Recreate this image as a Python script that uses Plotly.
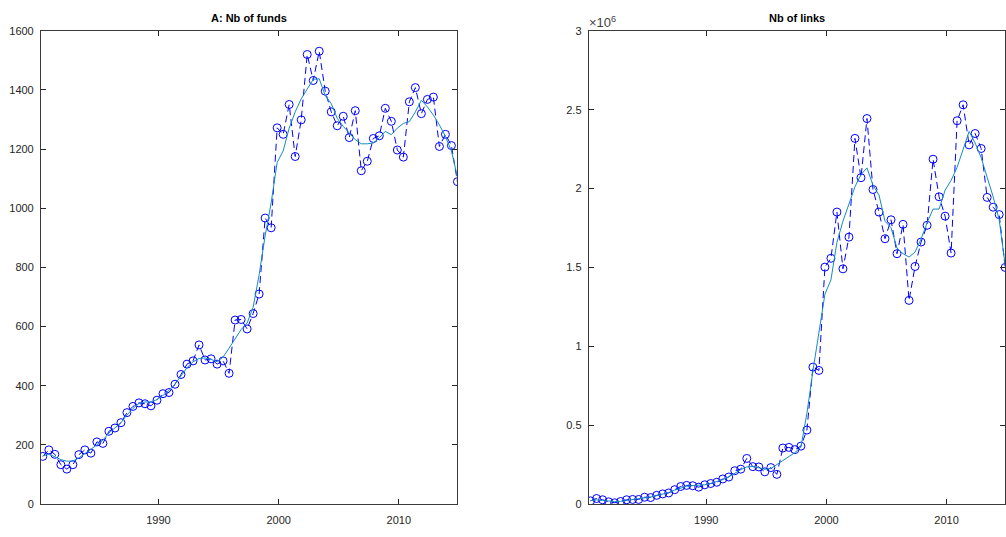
import plotly.graph_objects as go

# time axis: semi-annual observations
years = [1980.375 + 0.5 * k for k in range(70)]

funds = [161, 183, 168, 133, 118, 133, 167, 183, 172, 210,
         205, 246, 257, 275, 309, 330, 342, 339, 332, 351,
         373, 377, 405, 438, 473, 484, 538, 487, 491, 473,
         484, 442, 622, 624, 592, 644, 710, 967, 934, 1272,
         1250, 1351, 1175, 1299, 1520, 1432, 1531, 1396, 1326, 1279,
         1311, 1239, 1330, 1127, 1159, 1236, 1245, 1338, 1294, 1197,
         1173, 1360, 1408, 1320, 1368, 1376, 1209, 1250, 1212, 1090]

funds_smooth = [163, 168, 160, 150, 145, 145, 156, 172, 185, 200,
                216, 240, 257, 275, 301, 323, 340, 345, 345, 353,
                367, 384, 406, 434, 461, 481, 492, 494, 489, 481,
                497, 527, 560, 590, 612, 665, 775, 907, 1018, 1155,
                1194, 1271, 1326, 1370, 1403, 1436, 1438, 1381, 1354, 1304,
                1277, 1255, 1232, 1218, 1218, 1221, 1238, 1260, 1249, 1271,
                1287, 1293, 1326, 1365, 1343, 1315, 1282, 1243, 1194, 1106]

links_m = [0.020, 0.035, 0.027, 0.014, 0.008, 0.016, 0.027, 0.029, 0.029, 0.043,
           0.041, 0.055, 0.064, 0.070, 0.091, 0.111, 0.118, 0.116, 0.107, 0.122,
           0.130, 0.138, 0.159, 0.171, 0.211, 0.221, 0.289, 0.237, 0.235, 0.204,
           0.231, 0.188, 0.355, 0.359, 0.345, 0.367, 0.469, 0.868, 0.847, 1.502,
           1.558, 1.851, 1.491, 1.692, 2.318, 2.069, 2.444, 1.994, 1.851, 1.682,
           1.802, 1.587, 1.773, 1.291, 1.506, 1.661, 1.767, 2.186, 1.948, 1.825,
           1.591, 2.430, 2.531, 2.277, 2.349, 2.254, 1.944, 1.882, 1.835, 1.500]

links_smooth_m = [0.022, 0.026, 0.023, 0.018, 0.015, 0.017, 0.022, 0.028, 0.032, 0.038,
                  0.045, 0.053, 0.062, 0.073, 0.088, 0.103, 0.113, 0.117, 0.118, 0.122,
                  0.130, 0.141, 0.155, 0.172, 0.195, 0.218, 0.235, 0.238, 0.230, 0.220,
                  0.225, 0.250, 0.280, 0.305, 0.326, 0.360, 0.574, 0.843, 1.101, 1.330,
                  1.421, 1.659, 1.793, 1.907, 2.011, 2.089, 2.131, 2.021, 1.959, 1.793,
                  1.752, 1.622, 1.587, 1.566, 1.597, 1.680, 1.783, 1.870, 1.870, 1.990,
                  2.052, 2.135, 2.248, 2.362, 2.289, 2.196, 2.072, 1.948, 1.803, 1.515]

x_ticks = [1990, 2000, 2010]
funds_ticks = [0, 200, 400, 600, 800, 1000, 1200, 1400, 1600]
links_ticks = [0, 0.5, 1, 1.5, 2, 2.5, 3]
links_tick_text = ["0", "0.5", "1", "1.5", "2", "2.5", "3"]

RAW = "rgb(0,0,255)"
SMOOTH = "rgb(20,140,190)"
AX = "#262626"
FONT = "Liberation Sans, Arial, Helvetica, sans-serif"

fig = go.Figure()

def add_series(x, raw, smooth, xa, ya):
    fig.add_trace(go.Scatter(x=x, y=raw, xaxis=xa, yaxis=ya, mode="lines+markers",
                             line=dict(color=RAW, width=1, dash="7px,4px"),
                             marker=dict(symbol="circle-open", size=8, color=RAW,
                                         line=dict(width=1, color=RAW)),
                             showlegend=False, hoverinfo="skip"))
    fig.add_trace(go.Scatter(x=x, y=smooth, xaxis=xa, yaxis=ya, mode="lines",
                             line=dict(color=SMOOTH, width=1),
                             showlegend=False, hoverinfo="skip"))

add_series(years, funds, funds_smooth, "x", "y")
add_series(years, links_m, links_smooth_m, "x2", "y2")

W, H = 1006, 537
xr = [1980.22, 2014.86]
ydom = [(H - 509.4) / H, (H - 25.4) / H]

common_axis = dict(showgrid=False, zeroline=False, showline=True, linecolor="#3a3a3a",
                   linewidth=1, mirror="allticks", ticks="inside", ticklen=5,
                   tickcolor=AX, tickfont=dict(family=FONT, size=11, color=AX))

fig.update_layout(
    width=W, height=H,
    margin=dict(l=0, r=0, t=0, b=0),
    paper_bgcolor="white", plot_bgcolor="white",
    xaxis=dict(domain=[41 / W, 457.7 / W], range=xr, tickvals=x_ticks,
               anchor="y", ticklabelstandoff=6, **common_axis),
    yaxis=dict(domain=ydom, range=[0, 1600], tickvals=funds_ticks,
               anchor="x", ticklabelstandoff=4, **common_axis),
    xaxis2=dict(domain=[589.3 / W, 1.0], range=xr, tickvals=x_ticks,
                anchor="y2", ticklabelstandoff=6, **common_axis),
    yaxis2=dict(domain=ydom, range=[0, 3], tickvals=links_ticks,
                ticktext=links_tick_text, anchor="x2", ticklabelstandoff=4,
                **common_axis),
    annotations=[
        dict(text="<b>A: Nb of funds</b>", x=(41 + 457.7) / 2 / W, y=(H - 12) / H,
             xref="paper", yref="paper", showarrow=False, xanchor="center",
             yanchor="middle", font=dict(family=FONT, size=11, color="black")),
        dict(text="<b>Nb of links</b>", x=(589.3 + 1006) / 2 / W, y=(H - 12) / H,
             xref="paper", yref="paper", showarrow=False, xanchor="center",
             yanchor="middle", font=dict(family=FONT, size=11, color="black")),
        dict(text="×10<sup>6</sup>", x=588 / W, y=(H - 27) / H,
             xref="paper", yref="paper", showarrow=False, xanchor="left",
             yanchor="bottom", font=dict(family=FONT, size=13, color="#444444")),
    ],
)

fig.write_html("out.html")
